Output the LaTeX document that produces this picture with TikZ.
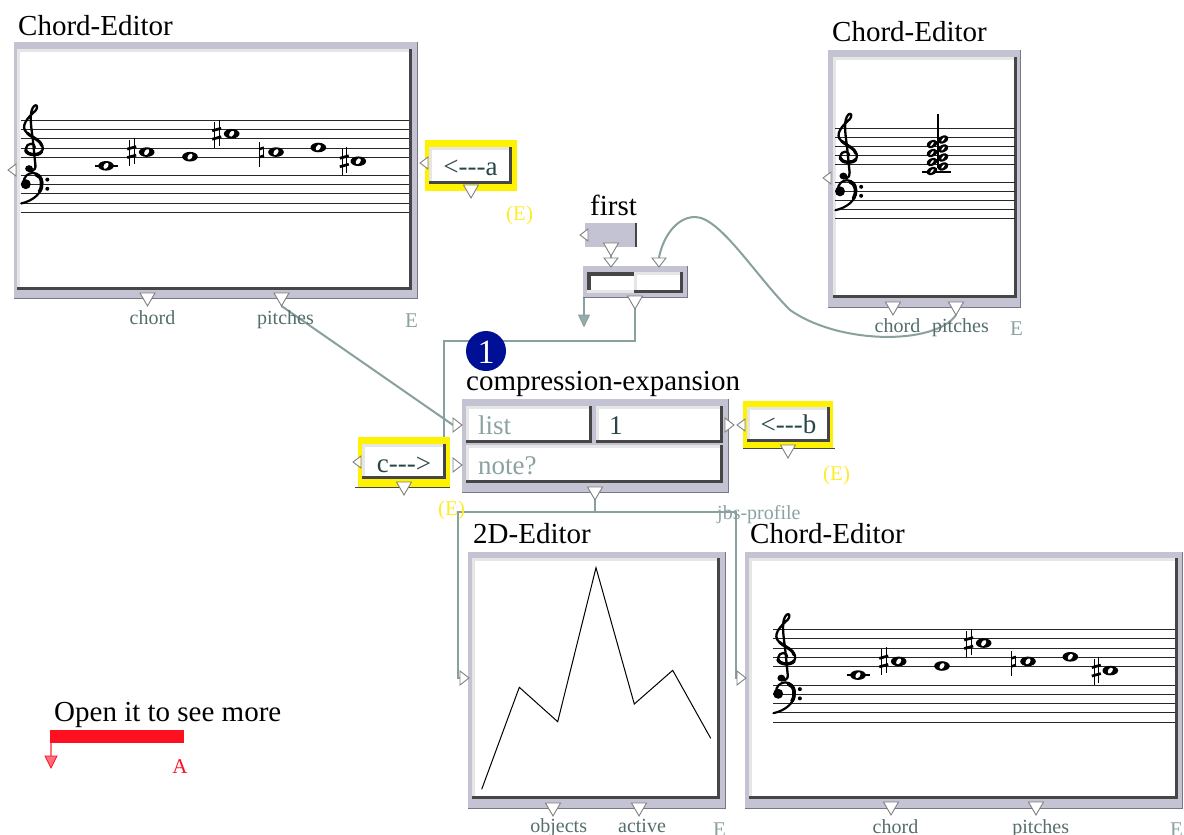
\documentclass[tikz,border=0pt]{standalone}
\usepackage{fontspec}
\setmainfont{Liberation Serif}
\usetikzlibrary{calc}

\definecolor{omframe}{RGB}{196,195,211}
\definecolor{frameedge}{RGB}{120,120,132}
\definecolor{bevdark}{RGB}{70,70,70}
\definecolor{bevlight}{RGB}{230,230,230}
\definecolor{wire}{RGB}{136,160,158}
\definecolor{wirefill}{RGB}{150,172,170}
\definecolor{lbl}{RGB}{84,110,108}
\definecolor{fieldtxt}{RGB}{140,162,162}
\definecolor{darktxt}{RGB}{40,70,70}
\definecolor{hilite}{RGB}{255,242,0}
\definecolor{evalc}{RGB}{255,236,40}
\definecolor{portc}{RGB}{128,128,128}
\definecolor{badge}{RGB}{0,16,150}
\definecolor{alarm}{RGB}{255,16,32}
\definecolor{alarmlight}{RGB}{255,110,125}

\pgfdeclarelayer{bg}
\pgfdeclarelayer{wires}
\pgfsetlayers{bg,wires,main}

% box frame and bevelled white panel
\newcommand\omFrame[4]{%
  \fill[omframe] (#1,#2) rectangle (#3,#4);
  \draw[frameedge,line width=0.7pt] (#1,#4) -- (#3,#4) -- (#3,#2);}
\newcommand\omBevel[4]{%
  \fill[white] (#1,#2) rectangle (#3,#4);
  \fill[bevlight] (#1,#2) rectangle (#3,#2+3);
  \fill[bevlight] (#1,#2) rectangle (#1+3,#4);
  \fill[bevdark] (#1,#4-3) rectangle (#3,#4);
  \fill[bevdark] (#3-3,#2) rectangle (#3,#4);}

% inlets and outlets
\newcommand\omOut[3]{%
  \draw[port] (#2-7.5,#3) -- (#2+7.5,#3) -- (#2,#3+13) -- cycle;
  \coordinate (#1) at (#2,#3+13);}
\newcommand\omInTop[3]{%
  \draw[port] (#2-7,#3) -- (#2+7,#3) -- (#2,#3+9) -- cycle;
  \coordinate (#1) at (#2,#3);}
\newcommand\omInL[3]{%
  \draw[port] (#2,#3) -- (#2+8,#3-6) -- (#2+8,#3+6) -- cycle;
  \coordinate (#1) at (#2,#3);}
\newcommand\omInR[3]{%
  \draw[port] (#2,#3) -- (#2-9,#3-7) -- (#2-9,#3+7) -- cycle;
  \coordinate (#1) at (#2-9,#3);}

% music glyphs
\newcommand\omTrebleClef{%
  \draw[line width=2.3pt,line cap=round,line join=round]
   (0.25,0.0) .. controls (0.3,-0.55) and (-0.55,-0.55) .. (-0.6,0.1)
   .. controls (-0.65,0.95) and (0.95,1.05) .. (1.0,0.15)
   .. controls (1.05,-0.7) and (0.1,-1.0) .. (-0.5,-1.6)
   .. controls (-1.2,-2.3) and (-0.4,-3.3) .. (0.3,-4.0)
   .. controls (0.55,-4.3) and (0.5,-4.8) .. (0.2,-4.55)
   .. controls (-0.3,-4.0) and (-0.15,-2.6) .. (0.05,-1.0)
   -- (0.3,1.9)
   .. controls (0.4,2.6) and (-0.3,2.8) .. (-0.5,2.3);
  \draw[line width=3.4pt,line cap=round]
   (-0.62,0.3) .. controls (-0.5,0.85) and (0.6,0.95) .. (0.9,0.45);
  \draw[line width=3.0pt,line cap=round]
   (0.9,-0.2) .. controls (0.8,-0.8) and (0.1,-1.0) .. (-0.45,-1.55);
  \fill (-0.3,2.3) circle (3.4pt);}
\newcommand\omBassClef{%
  \fill (0.5,0) circle (5pt);
  \draw[line width=2.2pt,line cap=round]
   (0.25,-0.1) .. controls (0.25,-1.6) and (2.3,-1.6) .. (2.3,-0.1)
   .. controls (2.3,1.0) and (1.3,1.8) .. (0,2.1);
  \draw[line width=3.6pt,line cap=round]
   (1.6,-1.05) .. controls (2.3,-0.9) and (2.4,0.2) .. (2.0,0.8);
  \fill (2.85,-0.5) circle (2pt);
  \fill (2.85,0.5) circle (2pt);}
\newcommand\omStaff[4]{%
  \foreach \k in {0,...,4}{
    \draw[staffline] (#1,{round(#3+\k*#4)+0.5}) -- (#2,{round(#3+\k*#4)+0.5});
    \draw[staffline] (#1,{round(#3+6*#4+\k*#4)+0.5}) -- (#2,{round(#3+6*#4+\k*#4)+0.5});}
  \begin{scope}[shift={(#1+11.5,#3+3*#4)},x=#4pt,y=-#4pt,xscale=1.15]
    \omTrebleClef
  \end{scope}
  \begin{scope}[shift={(#1+0.5,#3+7*#4)},x=#4pt,y=-#4pt]
    \omBassClef
  \end{scope}}
\newcommand\omWhole[2]{%
  \fill (#1,#2) ellipse (7.8pt and 4.8pt);
  \fill[white,rotate around={-35:(#1,#2)}] (#1,#2) ellipse (2.1pt and 3.3pt);}
\newcommand\omHead[2]{%
  \fill[rotate around={25:(#1,#2)}] (#1,#2) ellipse (5.8pt and 3.7pt);
  \fill[white,rotate around={-40:(#1,#2)}] (#1,#2) ellipse (0.9pt and 2.5pt);}
\newcommand\omLedger[2]{\draw[line width=1.4pt] (#1-11.5,#2) -- (#1+11.5,#2);}
\newcommand\omSharp[2]{%
  \draw[line width=1pt] (#1-2.3,#2-12) -- (#1-2.3,#2+14);
  \draw[line width=1pt] (#1+2.3,#2-14) -- (#1+2.3,#2+12);
  \draw[line width=2.7pt] (#1-4.5,#2-3) -- (#1+4.5,#2-5.5);
  \draw[line width=2.7pt] (#1-4.5,#2+5.5) -- (#1+4.5,#2+3);}
\newcommand\omNatural[2]{%
  \draw[line width=1pt] (#1-2.2,#2-10) -- (#1-2.2,#2+15);
  \draw[line width=1pt] (#1+2.2,#2-5) -- (#1+2.2,#2+6);
  \draw[line width=2.5pt] (#1-2.2,#2-3) -- (#1+2.2,#2-4.5);
  \draw[line width=2.5pt] (#1-2.2,#2+5) -- (#1+2.2,#2+3.5);}
\newcommand\omMelody[2]{%
  \begin{scope}[shift={(#1,#2)}]
    \omLedger{106}{165.8}\omWhole{106}{165.8}
    \omSharp{131.7}{152.1}\omWhole{146.7}{152.1}
    \omWhole{190}{156.7}
    \omSharp{216.7}{133.75}\omWhole{231.7}{133.75}
    \omNatural{261.7}{152.1}\omWhole{276}{152.1}
    \omWhole{318.3}{147.5}
    \omSharp{344.3}{161.25}\omWhole{358.3}{161.25}
  \end{scope}}
\newcommand\omDashes{-{}-{}-}

\begin{document}
\begin{tikzpicture}[x=1pt,y=-1pt,
  port/.style={draw=portc,fill=white,line width=0.9pt,line join=miter},
  wire/.style={draw=wire,line width=2pt},
  staffline/.style={line width=1.4pt,black!85},
  title/.style={font=\fontsize{29}{30}\selectfont,anchor=base west,inner sep=0pt},
  portlabel/.style={font=\fontsize{20}{22}\selectfont,text=lbl,anchor=base,inner sep=0pt},
  elabel/.style={font=\fontsize{21}{22}\selectfont,text=fieldtxt,anchor=base west,inner sep=0pt},
  fieldtext/.style={font=\fontsize{27}{28}\selectfont,anchor=base west,inner sep=0pt,text=fieldtxt},
  valtext/.style={font=\fontsize{27}{28}\selectfont,anchor=base,inner sep=0pt,text=darktxt},
  evalmark/.style={font=\fontsize{21}{22}\selectfont,text=evalc,anchor=base west,inner sep=0pt},
]
\begin{pgfonlayer}{bg}
  \fill[white] (0,0) rectangle (1184,835);
\end{pgfonlayer}
\useasboundingbox (0,0) rectangle (1184,835);

% ---------- Chord-Editor (top left)
\node[title] (tlTitle) at (18,35) {Chord-Editor};
\omFrame{14}{42}{417}{298}
\omBevel{17}{49}{412}{290}
\omStaff{20.7}{409}{120}{9.17}
\omMelody{0}{0}
\omInL{tlIn}{8}{170}
\omOut{tlChord}{147.5}{293}
\omOut{tlPitches}{281.5}{293}
\node[portlabel] (tlChordLbl) at (152.5,324) {chord};
\node[portlabel] (tlPitchLbl) at (285.5,324) {pitches};
\node[elabel] (tlE) at (405,327) {E};

% ---------- <---a
\fill[hilite] (425,140) rectangle (517,191);
\omBevel{429}{147}{512}{184}
\node[valtext] (aText) at (470.5,175) {<\omDashes a};
\omInL{aIn}{420}{163}
\omOut{aOut}{471}{185}
\node[evalmark] (aEval) at (506,220) {(E)};

% ---------- first
\node[title] (firstTitle) at (590,215) {first};
\fill[omframe] (585,223) rectangle (636,247);
\draw[bevdark,line width=1.2pt] (636,223) -- (636,247);
\omInL{firstIn}{580}{235}
\omOut{firstOut}{611}{243}

% ---------- two-slot list box
\omFrame{583}{266}{687}{297}
\fill[white] (587,272) rectangle (634,293);
\fill[bevdark] (587,272) rectangle (634,275.5);
\fill[bevdark] (587,272) rectangle (590.5,293);
\fill[bevlight] (587,290) rectangle (634,293);
\omBevel{634}{272}{683}{293}
\omInTop{listInA}{611}{258}
\omInTop{listInB}{659}{258}
\omOut{listOut}{635}{296}
\coordinate (listSide) at (584,297);
\coordinate (listSideTip) at (584,315);
\draw[draw=wire,fill=wirefill,line width=0.8pt] (578.5,315) -- (589.5,315) -- (584,326.5) -- cycle;

% ---------- Chord-Editor (top right)
\node[title] (trTitle) at (832,41) {Chord-Editor};
\omFrame{828}{50}{1020}{307}
\omBevel{833}{57}{1017}{298}
\omStaff{835}{1015}{128.3}{9.0}
\draw[line width=1.3pt] (922,172) -- (951,172);
\omHead{932}{171}\omHead{932}{162}\omHead{932}{153}\omHead{932}{144}
\omHead{943}{166.5}\omHead{943}{157.5}\omHead{943}{148.5}\omHead{943}{139.5}
\draw[line width=1.6pt] (937.7,114) -- (937.7,168);
\omInL{trIn}{823}{178}
\omOut{trChord}{893}{302}
\omOut{trPitches}{956}{302}
\node[portlabel] (trChordLbl) at (897.5,332) {chord};
\node[portlabel] (trPitchLbl) at (960.5,332) {pitches};
\node[elabel] (trE) at (1010,335) {E};

% ---------- compression-expansion
\fill[badge] (486,351) circle (20pt);
\node[text=white,font=\fontsize{34}{34}\selectfont,inner sep=0pt] (badgeNum) at (486,352) {1};
\node[title] (ceTitle) at (466,390) {compression-expansion};
\omFrame{462}{399}{728}{492}
\omBevel{466}{406}{592}{443}
\omBevel{596}{406}{723}{443}
\omBevel{466}{445}{723}{483}
\node[fieldtext] (ceListTxt) at (478,434) {list};
\node[valtext,anchor=base west] (ceVal) at (609,434) {1};
\node[fieldtext] (ceNoteTxt) at (478,474) {note?};
\omInR{ceList}{462}{425}
\omInR{ceNote}{462}{465}
\omInR{ceRight}{734}{425}
\omOut{ceOut}{595}{487}

% ---------- <---b
\fill[hilite] (743,401) rectangle (833,448);
\draw[bevdark,line width=1pt] (743,448.5) -- (835,448.5);
\omBevel{747}{407}{830}{442}
\node[valtext] (bText) at (788.5,433) {<\omDashes b};
\omInL{bIn}{737}{425}
\omOut{bOut}{788}{445}
\node[evalmark] (bEval) at (823,480) {(E)};

% ---------- c--->
\fill[hilite] (358,437) rectangle (450,487);
\draw[bevdark,line width=1pt] (355,487.5) -- (450,487.5);
\omBevel{362}{444}{446}{479}
\node[valtext] (cText) at (404,472) {c\omDashes>};
\omInL{cIn}{353}{462}
\omOut{cOut}{404}{482}
\coordinate (cTop) at (444,437);
\node[evalmark] (cEval) at (438,515) {(E)};
\node[elabel,font=\fontsize{20}{22}\selectfont] (jbs) at (717,519) {jbs-profile};

% ---------- 2D-Editor
\node[title] (edTitle) at (473,543) {2D-Editor};
\omFrame{468}{552}{725}{808}
\omBevel{472}{558}{720}{799}
\draw[line width=1pt,line join=miter] (481.7,789.3) -- (519.3,687.3) -- (557.7,721.7) -- (596,567.7)
  -- (634.3,704) -- (672.7,670.3) -- (710.7,738.3);
\omInR{edIn}{469}{678}
\omOut{edObjects}{553}{803}
\omOut{edActive}{639}{803}
\node[portlabel] (edObjLbl) at (558.7,832) {objects};
\node[portlabel] (edActLbl) at (642,832) {active};
\node[elabel] (edE) at (713,836) {E};

% ---------- Chord-Editor (bottom right)
\node[title] (brTitle) at (750,543) {Chord-Editor};
\omFrame{745}{552}{1182}{808}
\omBevel{749}{558}{1178}{799}
\omStaff{773}{1175}{629}{9.25}
\omMelody{752}{509.3}
\omInR{brIn}{746}{678}
\omOut{brChord}{891}{802}
\omOut{brPitches}{1036}{802}
\node[portlabel] (brChordLbl) at (895.5,833) {chord};
\node[portlabel] (brPitchLbl) at (1040.7,833) {pitches};
\node[elabel] (brE) at (1170,836) {E};

% ---------- comment box
\node[title] (openTitle) at (54,721) {Open it to see more};
\fill[alarm] (50,730) rectangle (184,743);
\coordinate (alarmFoot) at (51,743);
\coordinate (alarmTip) at (51,756);
\draw[alarmlight,line width=2pt] (alarmFoot) -- (alarmTip);
\draw[draw=alarm,fill=alarmlight,line width=0.8pt] (45,756) -- (57,756) -- (51,768) -- cycle;
\node[font=\fontsize{21}{22}\selectfont,text=alarm,anchor=base,inner sep=0pt] (alarmA) at (180,773) {A};

% ---------- connections
\coordinate (ceBus) at (595,512);
\coordinate (edTurn) at (458,678);
\coordinate (brTurn) at (736,678);
\begin{pgfonlayer}{wires}
  \draw[wire] (tlPitches) -- (ceList);
  \draw[wire] (firstOut) -- (listInA);
  \draw[wire] (trPitches) .. controls (935,345) and (840,345) .. (790,310)
     .. controls (755,275) and (720,217) .. (695,217)
     .. controls (675,217) and (662,240) .. (listInB);
  \draw[wire] (listOut) -- ++(0,32) -| (cTop);
  \draw[wire] (listSide) -- (listSideTip);
  \draw[wire] (ceOut) -- (ceBus) -| (edTurn) -- (edIn);
  \draw[wire] (ceBus) -| (brTurn) -- (brIn);
\end{pgfonlayer}
\end{tikzpicture}
\end{document}
